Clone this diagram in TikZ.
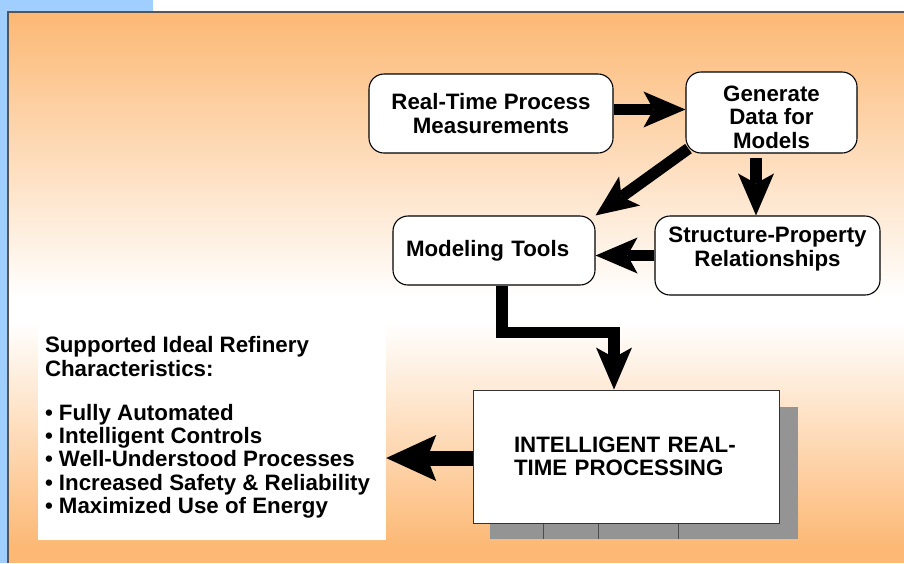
\documentclass[tikz,border=0pt]{standalone}
\usepackage{fontspec}
\setmainfont{Liberation Sans}
\usetikzlibrary{arrows.meta}
\definecolor{orng}{RGB}{252,184,116}
\definecolor{skyb}{RGB}{160,207,255}
\definecolor{framec}{RGB}{85,85,85}
\tikzset{
  lbl/.style={font=\bfseries\fontsize{22.3}{23.3}\selectfont},
  rbox/.style={lbl, draw=black, line width=1.1pt, fill=white, rounded corners=15pt, inner sep=0pt},
  sbox/.style={lbl, draw=black!80, line width=1pt, fill=white, inner sep=0pt},
  fat/.style={line width=11.5pt, -{Stealth[length=42pt, width=36pt, inset=10pt, line width=0pt]}},
  fatb/.style={line width=15pt, -{Stealth[length=50pt, width=46pt, inset=9pt, line width=0pt]}}
}
\begin{document}
\begin{tikzpicture}[x=1pt,y=-1pt]
% background
\fill[white] (0,0) rectangle (904,563);
\useasboundingbox (0,0) rectangle (904,563);
\fill[skyb] (0,0) rectangle (153,12);
\fill[skyb] (0,0) rectangle (8,563);
\shade[top color=orng, bottom color=white] (8,12) rectangle (904,298);
\fill[white] (8,297) rectangle (904,323);
\shade[top color=white, bottom color=orng] (8,322) rectangle (904,548);
\fill[orng] (8,547) rectangle (904,563);
\draw[framec, line width=1.5pt] (8,563) -- (8,12) -- (904,12);

% left text panel
\node[fill=white, minimum width=348pt, minimum height=217pt, inner sep=0pt] (tb) at (212,431.5) {};
\node[lbl, anchor=north west, align=left, inner sep=0pt] (tbt) at ([xshift=7pt,yshift=-13.8pt]tb.north west)
  {Supported Ideal Refinery\\Characteristics:\\[20.7pt]%
   • Fully Automated\\• Intelligent Controls\\• Well-Understood Processes\\%
   • Increased Safety \& Reliability\\• Maximized Use of Energy};

% shadow of the processing box
\fill[black!42] (490,407) rectangle (798,539);
\foreach \x in {543,598,678} \draw[black!70, line width=0.8pt] (\x,523) -- (\x,539);

% boxes
\node[rbox, minimum width=244pt, minimum height=79pt, align=center] (rt) at (491,113.5)
  {Real-Time Process\\Measurements};
\node[rbox, minimum width=171pt, minimum height=81pt, align=center] (gd) at (771.5,112.5)
  {\rule{0pt}{24.7pt}Generate\\Data for\\Models};
\node[rbox, text width=176pt, inner xsep=13pt, minimum height=69pt, align=left] (mt) at (494,250.5)
  {Modeling Tools};
\node[rbox, minimum width=225pt, minimum height=79pt, align=center] (spr) at (767.5,255.5)
  {Structure-Property\\Relationships\rule[-17.5pt]{0pt}{17.5pt}};
\node[sbox, text width=224pt, inner xsep=41pt, minimum height=133pt, align=left] (irtp) at (626,456.5)
  {INTELLIGENT REAL-\\TIME PROCESSING};

% connectors
\coordinate (r1) at ([yshift=4pt]rt.east);
\draw[fat] (r1) -- (r1 -| gd.west);
\coordinate (g1) at ([xshift=-15.5pt,yshift=-4pt]gd.south);
\draw[fat] (g1) -- (g1 |- spr.north);
\coordinate (g2) at ([xshift=3pt,yshift=5pt]gd.south west);
\draw[fat] (g2) -- (mt.north east);
\draw[fat] (spr.west) -- (spr.west -| mt.east);
\coordinate (m1) at ([xshift=8pt]mt.south);
\coordinate (i1) at ([xshift=-12pt]irtp.north);
\draw[fat] (m1) -- ++(0,47) -| (i1);
\coordinate (t1) at ([yshift=-1.5pt]irtp.west);
\draw[fatb] (t1) -- (t1 -| tb.east);
\end{tikzpicture}
\end{document}
